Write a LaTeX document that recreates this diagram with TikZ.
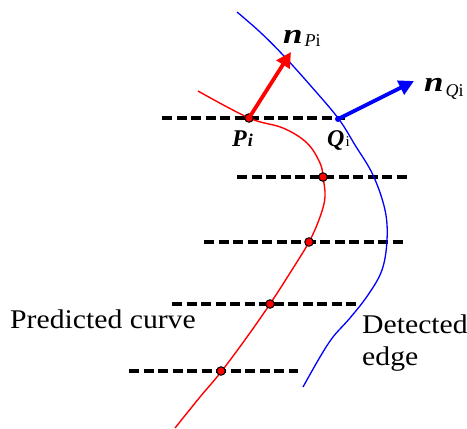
\documentclass[tikz,border=0pt]{standalone}
\usepackage{fontspec}
\setmainfont{Liberation Serif}
\usetikzlibrary{arrows.meta}
\begin{document}
\begin{tikzpicture}[x=1pt,y=-1pt,
  guide/.style={black, line width=3.2pt, dash pattern=on 10pt off 4.5pt},
  predcurve/.style={red, line width=1.4pt},
  detcurve/.style={blue, line width=1.3pt},
  rdot/.style={circle, fill=red, draw=black, line width=1pt, inner sep=0pt, minimum size=8.5pt},
  bdot/.style={circle, fill=blue, inner sep=0pt, minimum size=6pt},
  normalarrow/.style={line width=3.8pt, -{Triangle[length=15pt,width=15pt]}},
  bigtext/.style={font=\fontsize{27}{32}\selectfont, xscale=1.1, inner sep=0pt, anchor=base west},
  veclabel/.style={font=\fontsize{28}{28}\selectfont\bfseries\itshape, inner sep=0pt, anchor=base west},
  ptlabel/.style={font=\fontsize{24}{24}\selectfont\bfseries\itshape, inner sep=0pt, anchor=base west}]
\useasboundingbox[fill=white] (0,0) rectangle (467,429);
% dashed search lines
\coordinate (l1a) at (162,118); \coordinate (l1b) at (345,118);
\coordinate (l2a) at (237,177); \coordinate (l2b) at (407,177);
\coordinate (l3a) at (204,242); \coordinate (l3b) at (403,242);
\coordinate (l4a) at (172,304); \coordinate (l4b) at (357,304);
\coordinate (l5a) at (129,371); \coordinate (l5b) at (298,371);
\foreach \i in {1,...,5} {\draw[guide] (l\i a) -- (l\i b);}
% detected edge
\draw[detcurve] plot[smooth, tension=0.6] coordinates {(237,12) (260,32) (283,55) (310,85) (338,118) (355,145) (373,175) (385,210) (387,240) (382,270) (368,295) (350,318) (333,337) (320,357) (303,387)};
% predicted curve
\draw[predcurve] plot[smooth, tension=0.6] coordinates {(198,91) (249,118) (283,128) (307,143) (320,163) (323,177) (325,197) (320,217) (309,242) (290,273) (270,304) (247,337) (221,372) (200,397) (175,428)};
% points
\node[rdot] (P) at (249,118) {};
\node[rdot] (p2) at (323,177) {};
\node[rdot] (p3) at (309,242) {};
\node[rdot] (p4) at (270,304) {};
\node[rdot] (p5) at (221,371) {};
\node[bdot] (Q) at (338,119) {};
% normals
\coordinate (nPtip) at (291,52);
\coordinate (nQtip) at (414,81);
\draw[normalarrow, red] (P.center) -- (nPtip);
\draw[normalarrow, blue] (Q.center) -- (nQtip);
% labels
\node[veclabel] (nPl) at (283,43) {\scalebox{1.25}[1]{n}\kern2pt\raisebox{-3pt}{\fontsize{18}{18}\selectfont\mdseries\itshape P\upshape i}};
\node[veclabel] (nQl) at (424,91) {\scalebox{1.25}[1]{n}\kern2pt\raisebox{-5pt}{\fontsize{18}{18}\selectfont\mdseries\itshape Q\upshape i}};
\node[ptlabel] (Pl) at (232,146) {P\kern1pt\fontsize{18}{18}\selectfont i};
\node[ptlabel] (Ql) at (327,146) {Q\kern1pt\fontsize{15}{15}\selectfont\mdseries\upshape i};
\node[bigtext] (pc) at (10,328) {Predicted curve};
\node[bigtext] (de1) at (362,333) {Detected};
\node[bigtext] (de2) at (362,365) {edge};
\end{tikzpicture}
\end{document}
